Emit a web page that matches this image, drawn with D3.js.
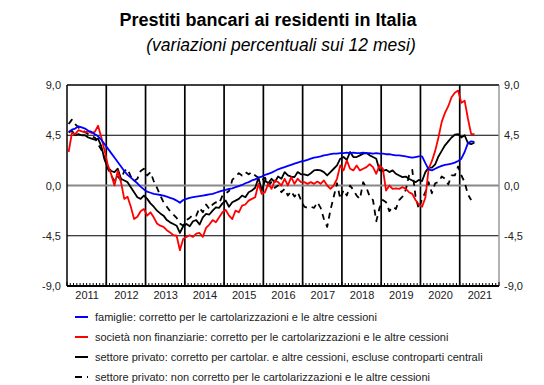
<!DOCTYPE html>
<html>
<head>
<meta charset="utf-8">
<script src="https://cdn.jsdelivr.net/npm/d3@7"></script>
<style>
  body { margin: 0; background: #fff; }
  svg { font-family: "Liberation Sans", Arial, sans-serif; }
</style>
</head>
<body>
<div id="chart"></div>
<script>
// Years on the x axis (monthly data from Jan 2011)
const years = [2011, 2012, 2013, 2014, 2015, 2016, 2017, 2018, 2019, 2020, 2021];
const yTicks = [-9, -4.5, 0, 4.5, 9];

// famiglie: corretto per le cartolarizzazioni e le altre cessioni
const famiglie = [
  4.8, 5.0, 5.1, 5.3, 5.2, 5.1, 4.9, 4.8, 4.6, 4.4, 4.1, 3.7,
  3.3, 2.9, 2.5, 2.1, 1.7, 1.3, 0.95, 0.7, 0.45, 0.2, -0.1, -0.35,
  -0.55, -0.65, -0.75, -0.8, -0.85, -0.9, -1.0, -1.1, -1.2, -1.35, -1.55, -1.3,
  -1.2, -1.1, -1.05, -1.0, -0.95, -0.9, -0.85, -0.8, -0.75, -0.65, -0.55, -0.45,
  -0.4, -0.3, -0.25, -0.15, -0.05, 0.05, 0.2, 0.3, 0.45, 0.55, 0.7, 0.8,
  0.95, 1.05, 1.15, 1.3, 1.45, 1.55, 1.65, 1.75, 1.85, 1.95, 2.05, 2.15,
  2.2, 2.3, 2.4, 2.5, 2.55, 2.6, 2.7, 2.75, 2.8, 2.85, 2.85, 2.9,
  2.9, 2.95, 2.9, 2.95, 2.9, 2.9, 2.95, 2.9, 2.9, 2.85, 2.9, 2.85,
  2.85, 2.8, 2.8, 2.75, 2.7, 2.7, 2.65, 2.6, 2.55, 2.5, 2.55, 2.6,
  2.6, 2.0, 1.45, 1.35, 1.5, 1.65, 1.75, 1.85, 1.9, 1.95, 2.05, 2.2,
  2.4, 3.0, 3.8, 3.95, 3.9
];

// società non finanziarie: corretto per le cartolarizzazioni e le altre cessioni
const societa = [
  3.0, 4.7, 4.6, 4.95, 4.85, 4.75, 4.85, 4.7, 4.8, 5.35, 4.3, 3.1,
  1.8, 1.0, 0.0, 1.3, 0.3, -1.2, -1.0, -1.9, -3.0, -2.8, -2.3, -2.1,
  -2.7, -2.4, -2.85, -3.4, -3.6, -3.7, -4.0, -4.2, -4.45, -4.5, -5.8, -4.8,
  -4.6, -4.45, -4.6, -4.3, -4.25, -4.6, -3.8, -3.5, -3.1, -3.3, -2.85, -2.4,
  -2.2, -2.7, -3.0, -2.25, -2.4, -1.8, -1.7, -1.35, -1.2, -1.05, 0.15, -0.75,
  -0.6, 0.15, -0.3, 0.45, 0.3, 0.0, 0.6, 0.0, 0.75, 0.15, 0.6, 0.3,
  0.3, 0.15, 0.3, 0.15, 0.35, 0.15, 0.45, 0.0, -0.3, 0.0, 0.6, 1.8,
  1.35, 2.25, 1.5, 1.35, 1.8, 1.35, 1.5, 1.65, 1.9, 1.65, 1.05, 1.8,
  1.5, -0.45, 0.0, -0.3, -0.25, -0.3, -0.15, -0.3, -0.6, -0.75, -1.3, -1.7,
  -1.9, -1.1, 1.5, 2.2, 3.1, 4.3, 5.7, 6.5, 7.1, 7.9, 8.3, 8.5,
  7.4, 7.6, 6.0, 4.6, 4.6
];

// settore privato: corretto per cartolar. e altre cessioni, escluse controparti centrali
const privatoCorr = [
  4.75, 4.9, 4.5, 4.6, 4.5, 4.5, 4.3, 4.2, 4.1, 4.2, 3.5, 2.3,
  1.6, 1.3, 1.2, 1.5, 0.6, 0.45, 0.3, -0.15, -0.6, -1.05, -1.2, -0.9,
  -1.2, -1.6, -1.9, -2.25, -2.5, -2.7, -3.1, -3.3, -3.45, -3.6, -4.25, -3.65,
  -3.45, -3.65, -3.2, -3.1, -3.5, -2.85, -2.55, -2.6, -2.25, -1.95, -2.0, -1.6,
  -1.35, -1.9, -1.5, -1.35, -1.2, -0.9, -1.05, -0.6, -0.45, -0.2, 0.7, -0.45,
  0.45, 0.2, 0.6, 0.3, 0.8, 0.6, 1.2, 0.9, 0.8, 0.75, 1.2, 1.0,
  1.0, 0.9, 1.1, 1.35, 1.4, 1.35, 1.2, 0.9, 1.2, 1.5, 1.8, 2.4,
  2.55, 2.3, 3.0, 2.55, 2.55, 2.7, 2.85, 2.9, 2.7, 2.55, 2.4, 1.35,
  1.3, 1.4, 1.2, 1.35, 1.05, 0.9, 0.75, 0.8, 0.6, 0.45, 0.3, 0.5,
  0.4, 1.2, 1.6, 1.6, 1.9, 2.6, 3.1, 3.6, 3.95, 4.3, 4.55, 4.6,
  4.3, 4.5, 3.8, 3.7, 3.85
];

// settore privato: non corretto per le cartolarizzazioni e le altre cessioni
const privatoNonCorr = [
  5.5, 5.9, 5.5, 5.2, 5.0, 4.8, 4.6, 4.4, 4.3, 3.7, 3.2, 2.4,
  1.5, 0.9, 0.4, 0.8, 0.5, 1.3, 1.5, 0.8, 0.4, 0.6, 1.3, 1.5,
  0.9, 1.2, 0.4, -0.2, -0.9, -1.5, -1.9, -2.3, -2.6, -2.9, -3.4, -3.6,
  -3.1, -2.9, -2.6, -2.7, -2.0, -2.4, -1.7, -2.1, -1.7, -1.5, -1.6, -0.9,
  -0.7, -0.5, 0.5, 0.8, 1.1, 0.9, 1.2, 1.0, 1.2, 0.9, 0.7, 0.4,
  0.7, 0.0, 0.3, -0.2, 0.0, -0.6, -0.3, -0.9, -0.5, -1.0, -0.6, -1.3,
  -1.9, -2.0, -1.9, -2.0, -1.5, -2.0, -3.0, -3.7, -2.2, -1.0, 0.2, -1.2,
  -0.4, -0.9, 0.0, -0.4, -0.9, -1.2, 0.3, -0.2, -1.0, -1.3, -3.2, -2.0,
  -1.3, -1.5, -2.3, -1.9, -2.1, -1.3, -1.0, -0.4, 0.9, 1.4, -1.0, -2.1,
  -1.2, -0.6, 0.3, -0.7, 0.2, 0.3, 0.8, 0.6, 0.1, 0.9, 0.9, 1.7,
  0.9, 0.3, -0.8, -1.3
];

const legendLabels = [
  "famiglie: corretto per le cartolarizzazioni e le altre cessioni",
  "società non finanziarie: corretto per le cartolarizzazioni e le altre cessioni",
  "settore privato: corretto per cartolar. e altre cessioni, escluse controparti centrali",
  "settore privato: non corretto per le cartolarizzazioni e le altre cessioni"
];

function drawChart() {
    const width = 544, height = 385;
    const plot = {left: 67, right: 499, top: 85, bottom: 286};

    const svg = d3.select("#chart")
        .append("svg")
        .attr("width", width)
        .attr("height", height);

    // Titles
    svg.append("text")
        .attr("x", 268).attr("y", 26)
        .attr("text-anchor", "middle")
        .style("font-size", "18px").style("font-weight", "bold")
        .text("Prestiti bancari ai residenti in Italia");
    svg.append("text")
        .attr("x", 281).attr("y", 51)
        .attr("text-anchor", "middle")
        .style("font-size", "17.5px").style("font-style", "italic")
        .text("(variazioni percentuali sui 12 mesi)");

    // scales: x on month index, y on percentage
    const nMonths = years.length * 12;
    const x = d3.scaleLinear().domain([0, nMonths]).range([plot.left, plot.right]);
    const y = d3.scaleLinear().domain([-9, 9]).range([plot.bottom, plot.top]);

    const locale = d3.formatLocale({decimal: ",", thousands: ".", grouping: [3], currency: ["", "€"], minus: "-"});
    const fmt = locale.format(".1f");

    // horizontal grid
    svg.append("g")
        .selectAll("line")
        .data(yTicks.filter(d => d !== 0))
        .enter()
        .append("line")
        .attr("x1", plot.left).attr("x2", plot.right)
        .attr("y1", d => y(d)).attr("y2", d => y(d))
        .attr("stroke", "#000")
        .attr("stroke-width", 1);

    // vertical year separators
    svg.append("g")
        .selectAll("line")
        .data(d3.range(1, years.length))
        .enter()
        .append("line")
        .attr("x1", d => x(d * 12)).attr("x2", d => x(d * 12))
        .attr("y1", plot.top).attr("y2", plot.bottom)
        .attr("stroke", "#000")
        .attr("stroke-width", 1.7);

    // zero line
    svg.append("line")
        .attr("x1", plot.left).attr("x2", plot.right)
        .attr("y1", y(0)).attr("y2", y(0))
        .attr("stroke", "#888")
        .attr("stroke-width", 2);

    // right border (grey) and left axis line
    svg.append("line")
        .attr("x1", plot.right).attr("x2", plot.right)
        .attr("y1", plot.top).attr("y2", plot.bottom)
        .attr("stroke", "#999").attr("stroke-width", 1.5);
    svg.append("line")
        .attr("x1", plot.left).attr("x2", plot.left)
        .attr("y1", plot.top).attr("y2", plot.bottom)
        .attr("stroke", "#000").attr("stroke-width", 1.5);

    // bottom axis with monthly minor ticks
    svg.append("line")
        .attr("x1", plot.left).attr("x2", plot.right)
        .attr("y1", plot.bottom).attr("y2", plot.bottom)
        .attr("stroke", "#000").attr("stroke-width", 2);
    svg.append("g")
        .selectAll("line")
        .data(d3.range(0, nMonths + 1))
        .enter()
        .append("line")
        .attr("x1", d => x(d)).attr("x2", d => x(d))
        .attr("y1", plot.bottom).attr("y2", d => plot.bottom - (d % 12 === 0 ? 4 : 3))
        .attr("stroke", "#000").attr("stroke-width", 1);

    // y labels, both sides
    const leftAxis = svg.append("g")
        .attr("transform", "translate(" + plot.left + ",0)")
        .call(d3.axisLeft(y).tickValues(yTicks).tickSize(0).tickPadding(6).tickFormat(fmt));
    const rightAxis = svg.append("g")
        .attr("transform", "translate(" + plot.right + ",0)")
        .call(d3.axisRight(y).tickValues(yTicks).tickSize(0).tickPadding(5).tickFormat(fmt));
    const xAxis = svg.append("g")
        .attr("transform", "translate(0," + plot.bottom + ")")
        .call(d3.axisBottom(x)
            .tickValues(years.map((d, i) => i * 12 + 6))
            .tickSize(0).tickPadding(5)
            .tickFormat((d, i) => years[i]));
    [leftAxis, rightAxis, xAxis].forEach(a => {
        a.select(".domain").remove();
        a.selectAll("text").style("font-size", "11px").style("font-family", "'Liberation Sans', Arial, sans-serif").attr("fill", "#222");
    });

    // series
    const series = [
        {values: privatoNonCorr, color: "#000", dash: "6,5"},
        {values: privatoCorr, color: "#000", dash: null},
        {values: societa, color: "#ff0000", dash: null},
        {values: famiglie, color: "#0000ff", dash: null}
    ];
    const line = d3.line()
        .x((d, i) => x(i + 0.5))
        .y(d => y(d));

    svg.append("g")
        .selectAll("path")
        .data(series)
        .enter()
        .append("path")
        .attr("d", d => line(d.values))
        .attr("fill", "none")
        .attr("stroke", d => d.color)
        .attr("stroke-width", 1.8)
        .attr("stroke-linejoin", "round")
        .attr("stroke-dasharray", d => d.dash);

    // top border on top of everything
    svg.append("line")
        .attr("x1", plot.left).attr("x2", plot.right)
        .attr("y1", plot.top).attr("y2", plot.top)
        .attr("stroke", "#000").attr("stroke-width", 1);

    // legend
    const legendItems = [
        {label: legendLabels[0], color: "#0000ff", dash: null},
        {label: legendLabels[1], color: "#ff0000", dash: null},
        {label: legendLabels[2], color: "#000", dash: null},
        {label: legendLabels[3], color: "#000", dash: "7,5"}
    ];
    const legend = svg.append("g")
        .selectAll("g")
        .data(legendItems)
        .enter()
        .append("g")
        .attr("transform", (d, i) => "translate(75," + (317 + i * 20) + ")");
    legend.append("line")
        .attr("x1", 0).attr("x2", 13)
        .attr("stroke", d => d.color)
        .attr("stroke-width", 2)
        .attr("stroke-dasharray", d => d.dash);
    legend.append("text")
        .attr("x", 20).attr("y", 4)
        .style("font-size", "11px")
        .attr("fill", "#222")
        .text(d => d.label);
}

drawChart();
</script>
</body>
</html>
